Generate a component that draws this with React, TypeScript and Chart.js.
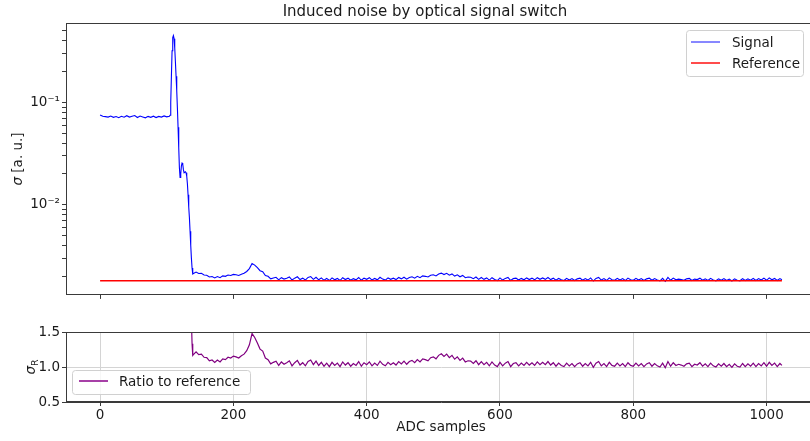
import React, { useEffect, useRef } from 'react';
import { Chart, registerables } from 'chart.js';

Chart.register(...registerables);

const FONT = "'DejaVu Sans', sans-serif";
const TEXT = '#1a1a1a';
const FRAME = '#3a3a3a';

// ---- data ----
const plateauSamples = [0, 4, 8, 12, 16, 20, 24, 28, 32, 36, 40, 44, 48, 52, 56, 60, 64, 68, 72, 76, 80, 84, 88, 92, 96, 100, 104];
const plateauSignal = [0.0755, 0.0732, 0.0726, 0.0718, 0.0735, 0.0714, 0.0728, 0.0708, 0.0731, 0.0717, 0.0742, 0.0719, 0.0733, 0.0745, 0.0712, 0.0736, 0.0721, 0.0707, 0.073, 0.0715, 0.0734, 0.0711, 0.0729, 0.0718, 0.0737, 0.0722, 0.0731];

const transitionSamples = [105, 106, 107, 108, 109, 110, 111, 112, 113, 114, 115, 116, 117, 118, 119, 120, 121, 122, 123, 124, 125, 126, 127, 128, 129, 130, 131, 132, 133, 134, 135, 136, 137, 138, 139, 140];
const transitionSignal = [0.075, 0.1, 0.18, 0.32, 0.43, 0.45, 0.42, 0.34, 0.25, 0.18, 0.13, 0.088, 0.057, 0.036, 0.023, 0.0185, 0.02, 0.024, 0.0255, 0.025, 0.022, 0.0205, 0.0205, 0.021, 0.0205, 0.019, 0.016, 0.0125, 0.0095, 0.0075, 0.0055, 0.004, 0.003, 0.0024, 0.0021, 0.00212];

// tail: samples 144, 148, ..., 1020, then 1023
const tailFirstSample = 144;
const tailSampleStep = 4;
const tailSignal = [
  0.00219, 0.00212, 0.00213, 0.00205, 0.00204, 0.00196, 0.00198, 0.00192, 0.00198, 0.00193,
  0.00201, 0.00199, 0.00205, 0.00203, 0.00208, 0.00206, 0.00203, 0.00209, 0.00213, 0.00222,
  0.00237, 0.00266, 0.00256, 0.00242, 0.00226, 0.00221, 0.00203, 0.00199, 0.00188, 0.00192,
  0.00195, 0.00184, 0.00193, 0.00187, 0.00191, 0.00196, 0.00183, 0.00191, 0.00197, 0.00185,
  0.00191, 0.00183, 0.00194, 0.00198, 0.00186, 0.00195, 0.00184, 0.00192, 0.00182, 0.0019,
  0.00181, 0.00192, 0.00184, 0.0019, 0.00181, 0.00193, 0.00185, 0.00191, 0.00182, 0.00189,
  0.00184, 0.00194, 0.00182, 0.00191, 0.00186, 0.00193, 0.00183, 0.0019, 0.00184, 0.00195,
  0.00187, 0.00183, 0.00192, 0.00186, 0.00191, 0.00185, 0.00194, 0.00188, 0.00195, 0.00187,
  0.00194, 0.00197, 0.00191, 0.00199, 0.00193, 0.00201, 0.00199, 0.00196, 0.00204, 0.00206,
  0.00201, 0.0021, 0.00214, 0.00207, 0.00213, 0.00204, 0.0021, 0.002, 0.00206, 0.00197,
  0.00203, 0.00193, 0.00196, 0.00195, 0.00189, 0.00196, 0.00186, 0.00194, 0.00186, 0.00192,
  0.00183, 0.00193, 0.00185, 0.00181, 0.00192, 0.00183, 0.0019, 0.00194, 0.00181, 0.00189,
  0.00191, 0.00183, 0.0019, 0.00184, 0.00192, 0.00185, 0.00191, 0.00184, 0.00193, 0.00186,
  0.00192, 0.00186, 0.00194, 0.00185, 0.00191, 0.00182, 0.0019, 0.00184, 0.00181, 0.0019,
  0.00183, 0.00189, 0.00181, 0.00188, 0.00191, 0.00182, 0.00189, 0.00183, 0.00192, 0.00179,
  0.0019, 0.00194, 0.00183, 0.00189, 0.00181, 0.00192, 0.00184, 0.00182, 0.0019, 0.00183,
  0.00189, 0.00181, 0.00191, 0.00184, 0.00182, 0.0019, 0.00183, 0.00189, 0.00181, 0.00188,
  0.00191, 0.00182, 0.00189, 0.00183, 0.0018, 0.0019, 0.00178, 0.00194, 0.00182, 0.00191,
  0.00184, 0.00187, 0.00185, 0.00182, 0.00188, 0.0019, 0.00181, 0.00187, 0.00185, 0.00191,
  0.00182, 0.00188, 0.00181, 0.0019, 0.00183, 0.0018, 0.00188, 0.00182, 0.00189, 0.00181,
  0.00187, 0.00179, 0.00188, 0.00182, 0.0018, 0.00189, 0.00181, 0.00188, 0.00182, 0.0019,
  0.00181, 0.00189, 0.00183, 0.00191, 0.00182, 0.00192, 0.00184, 0.0019, 0.00181, 0.00189,
];
const lastSample = 1023;
const lastSignal = 0.00184;

const referenceSamples = [0, 1023];
const referenceSigma = [0.0018, 0.0018];

const xTickStep = 200;
const xMin = -51.15;
const xMax = 1074.15;
const sigmaMin = 0.00131;
const sigmaMax = 0.598;
const ratioMin = 0.5;
const ratioMax = 1.5;
const ratioTickStep = 0.5;

// ---- derived tables ----
const tailSamples = tailSignal.map((_, i) => tailFirstSample + i * tailSampleStep);
const allSamples = [...plateauSamples, ...transitionSamples, ...tailSamples, lastSample];
const allSignal = [...plateauSignal, ...transitionSignal, ...tailSignal, lastSignal];
const signalPoints = allSamples.map((x, i) => ({ x, y: allSignal[i] }));
const referencePoints = referenceSamples.map((x, i) => ({ x, y: referenceSigma[i] }));
const ratioPoints = allSamples.map((x, i) => ({ x, y: allSignal[i] / referenceSigma[0] }));

const sup: Record<string, string> = { '-': '⁻', '0': '⁰', '1': '¹', '2': '²', '3': '³', '4': '⁴', '5': '⁵', '6': '⁶', '7': '⁷', '8': '⁸', '9': '⁹' };
const powLabel = (e: number) => '10' + String(e).split('').map((c) => sup[c]).join('');

function logTickValues(min: number, max: number) {
  const out: { value: number }[] = [];
  for (let e = Math.floor(Math.log10(min)); e <= Math.ceil(Math.log10(max)); e++) {
    for (let d = 1; d <= 9; d++) {
      const v = d * Math.pow(10, e);
      if (v >= min && v <= max) out.push({ value: v });
    }
  }
  return out;
}

function roundRect(ctx: CanvasRenderingContext2D, x: number, y: number, w: number, h: number, r: number) {
  ctx.beginPath();
  ctx.moveTo(x + r, y);
  ctx.lineTo(x + w - r, y);
  ctx.quadraticCurveTo(x + w, y, x + w, y + r);
  ctx.lineTo(x + w, y + h - r);
  ctx.quadraticCurveTo(x + w, y + h, x + w - r, y + h);
  ctx.lineTo(x + r, y + h);
  ctx.quadraticCurveTo(x, y + h, x, y + h - r);
  ctx.lineTo(x, y + r);
  ctx.quadraticCurveTo(x, y, x + r, y);
  ctx.closePath();
}

type LegendItem = { label: string; color: string; width: number; y: number };
function drawLegend(ctx: CanvasRenderingContext2D, box: { x: number; y: number; w: number; h: number }, lineX: number, textX: number, items: LegendItem[]) {
  ctx.save();
  roundRect(ctx, box.x + 0.5, box.y + 0.5, box.w, box.h, 3);
  ctx.fillStyle = 'rgba(255,255,255,0.8)';
  ctx.fill();
  ctx.strokeStyle = '#d0d0d0';
  ctx.lineWidth = 1;
  ctx.stroke();
  ctx.font = `13.5px ${FONT}`;
  ctx.textBaseline = 'middle';
  ctx.textAlign = 'left';
  items.forEach((it) => {
    ctx.strokeStyle = it.color;
    ctx.lineWidth = it.width;
    ctx.beginPath();
    ctx.moveTo(lineX, it.y);
    ctx.lineTo(lineX + 29, it.y);
    ctx.stroke();
    ctx.fillStyle = TEXT;
    ctx.fillText(it.label, textX, it.y + 1);
  });
  ctx.restore();
}

function drawFrame(ctx: CanvasRenderingContext2D, a: { left: number; top: number; right: number; bottom: number }) {
  ctx.save();
  ctx.strokeStyle = FRAME;
  ctx.lineWidth = 1;
  ctx.strokeRect(Math.round(a.left) + 0.5, Math.round(a.top) + 0.5, Math.round(a.right - a.left), Math.round(a.bottom - a.top) - 1);
  ctx.restore();
}

const topDecor = {
  id: 'topDecor',
  afterDraw(chart: any) {
    const ctx: CanvasRenderingContext2D = chart.ctx;
    const a = chart.chartArea;
    drawFrame(ctx, a);
    ctx.save();
    ctx.fillStyle = TEXT;
    ctx.font = `15px ${FONT}`;
    ctx.textAlign = 'center';
    ctx.textBaseline = 'middle';
    ctx.fillText('Induced noise by optical signal switch', 425, 12);
    const cy = (a.top + a.bottom) / 2;
    ctx.translate(18, cy);
    ctx.rotate(-Math.PI / 2);
    const italic = `italic 13.5px ${FONT}`;
    const normal = `13.5px ${FONT}`;
    ctx.font = italic;
    const w1 = ctx.measureText('σ').width;
    ctx.font = normal;
    const w2 = ctx.measureText(' [a. u.]').width;
    const sx = -(w1 + w2) / 2;
    ctx.textAlign = 'left';
    ctx.font = italic;
    ctx.fillText('σ', sx, 0);
    ctx.font = normal;
    ctx.fillText(' [a. u.]', sx + w1, 0);
    ctx.restore();
    drawLegend(ctx, { x: 686, y: 30, w: 117, h: 46 }, 691, 732, [
      { label: 'Signal', color: '#1010ff', width: 1, y: 42 },
      { label: 'Reference', color: '#ff1010', width: 1.5, y: 63 },
    ]);
  },
};

const bottomDecor = {
  id: 'bottomDecor',
  afterDraw(chart: any) {
    const ctx: CanvasRenderingContext2D = chart.ctx;
    const a = chart.chartArea;
    drawFrame(ctx, a);
    ctx.save();
    ctx.fillStyle = TEXT;
    const cy = (a.top + a.bottom) / 2;
    ctx.translate(30, cy);
    ctx.rotate(-Math.PI / 2);
    ctx.textBaseline = 'alphabetic';
    ctx.font = `italic 13.5px ${FONT}`;
    const w1 = ctx.measureText('σ').width;
    ctx.font = `9.5px ${FONT}`;
    const w2 = ctx.measureText('R').width;
    const sx = -(w1 + w2) / 2;
    ctx.font = `italic 13.5px ${FONT}`;
    ctx.fillText('σ', sx, 5);
    ctx.font = `9.5px ${FONT}`;
    ctx.fillText('R', sx + w1, 8);
    ctx.restore();
    drawLegend(ctx, { x: 72, y: 60, w: 178, h: 24 }, 79, 119, [
      { label: 'Ratio to reference', color: '#8a008a', width: 1.5, y: 71 },
    ]);
  },
};

export default function App() {
  const topRef = useRef<HTMLCanvasElement>(null);
  const botRef = useRef<HTMLCanvasElement>(null);

  useEffect(() => {
    const tickFont = { family: FONT, size: 13.5 };
    const top = new Chart(topRef.current as HTMLCanvasElement, {
      type: 'line',
      data: {
        datasets: [
          { label: 'Reference', data: referencePoints, borderColor: '#ff0000', borderWidth: 1.5, pointRadius: 0, order: 0 },
          { label: 'Signal', data: signalPoints, borderColor: '#0000ff', borderWidth: 1.1, pointRadius: 0, order: 1 },
        ],
      },
      options: {
        animation: false,
        responsive: false,
        maintainAspectRatio: false,
        layout: { padding: { top: 23, right: 34, left: 0, bottom: 0 } },
        plugins: { legend: { display: false }, title: { display: false }, tooltip: { enabled: false } },
        elements: { line: { tension: 0 } },
        scales: {
          x: {
            type: 'linear',
            min: xMin,
            max: xMax,
            ticks: { display: false, stepSize: xTickStep, includeBounds: false },
            grid: { drawOnChartArea: false, drawTicks: true, tickLength: 4, color: FRAME },
            border: { display: true, color: FRAME },
            afterFit: (s: any) => { s.height = 8; },
          },
          y: {
            type: 'logarithmic',
            min: sigmaMin,
            max: sigmaMax,
            afterBuildTicks: (s: any) => { s.ticks = logTickValues(sigmaMin, sigmaMax); },
            ticks: {
              autoSkip: false,
              padding: 2,
              color: TEXT,
              font: tickFont,
              callback: (v: any) => {
                const l = Math.log10(Number(v));
                return Math.abs(l - Math.round(l)) < 1e-6 ? powLabel(Math.round(l)) : '';
              },
            },
            grid: { drawOnChartArea: false, drawTicks: true, tickLength: 4, color: FRAME },
            border: { display: true, color: FRAME },
            afterFit: (s: any) => { s.width = 66; },
          },
        },
      } as any,
      plugins: [topDecor],
    });

    const bot = new Chart(botRef.current as HTMLCanvasElement, {
      type: 'line',
      data: {
        datasets: [
          { label: 'Ratio to reference', data: ratioPoints, borderColor: '#800080', borderWidth: 1.2, pointRadius: 0 },
        ],
      },
      options: {
        animation: false,
        responsive: false,
        maintainAspectRatio: false,
        layout: { padding: { top: 22, right: 34, left: 0, bottom: 0 } },
        plugins: { legend: { display: false }, title: { display: false }, tooltip: { enabled: false } },
        elements: { line: { tension: 0 } },
        scales: {
          x: {
            type: 'linear',
            min: xMin,
            max: xMax,
            ticks: { stepSize: xTickStep, includeBounds: false, padding: 1, color: TEXT, font: tickFont, maxRotation: 0, callback: (v: any) => String(Math.round(Number(v))) },
            grid: { color: '#d4d4d4', tickColor: FRAME, drawTicks: true, tickLength: 4 },
            border: { display: true, color: FRAME },
            title: { display: true, text: 'ADC samples', color: TEXT, font: tickFont, padding: { top: 0, bottom: 5 } },
            afterFit: (s: any) => { s.height = 39; },
          },
          y: {
            type: 'linear',
            min: ratioMin,
            max: ratioMax,
            ticks: { stepSize: ratioTickStep, padding: 2, color: TEXT, font: tickFont, callback: (v: any) => Number(v).toFixed(1) },
            grid: { color: '#d4d4d4', tickColor: FRAME, drawTicks: true, tickLength: 4 },
            border: { display: true, color: FRAME },
            afterFit: (s: any) => { s.width = 66; },
          },
        },
      } as any,
      plugins: [bottomDecor],
    });

    return () => {
      top.destroy();
      bot.destroy();
    };
  }, []);

  return (
    <div style={{ position: 'fixed', left: 0, top: 0, width: 810, height: 441, overflow: 'hidden', background: '#fff' }}>
      <canvas ref={topRef} width={850} height={305} style={{ position: 'absolute', left: 0, top: 0, width: 850, height: 305 }} />
      <canvas ref={botRef} width={850} height={131} style={{ position: 'absolute', left: 0, top: 310, width: 850, height: 131 }} />
    </div>
  );
}
